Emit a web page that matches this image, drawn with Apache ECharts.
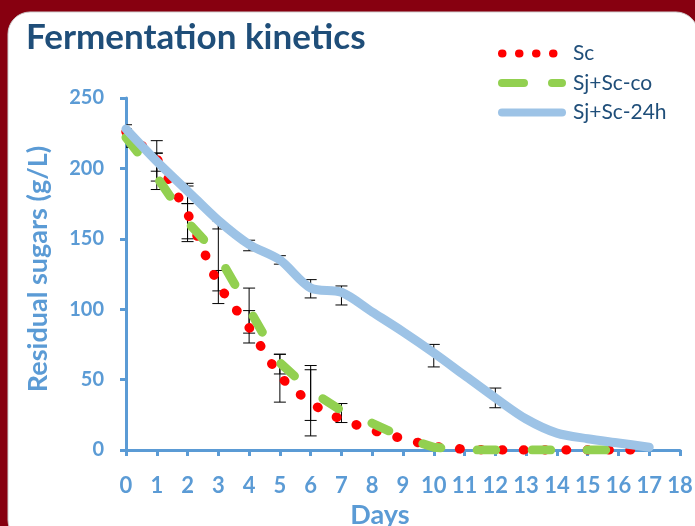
<!DOCTYPE html>
<html>
<head>
<meta charset="utf-8">
<script src="https://cdn.jsdelivr.net/npm/echarts@6/dist/echarts.min.js"></script>
<style>
html,body{margin:0;padding:0;background:#870010;}
#chart{width:695px;height:526px;}
</style>
</head>
<body>
<div id="chart"></div>
<script>
// ---- data ----
const xTicks = [0,1,2,3,4,5,6,7,8,9,10,11,12,13,14,15,16,17,18];
const yTicks = [0,50,100,150,200,250];

const scDays   = [0,1,2,3,4,5,6,7,8,9,10,11,12,13,14,15,16,16.5];
const scValues = [226,207,168,117,87,52,33,21.5,14,8,2.5,0.5,0,0,0,0,0,0];

const coDays   = [0,1,2,3,4,5,6,7,8,9,10,11,12,13,14,15,16];
const coValues = [222,194,162,138,100,62,42,28,19,9,2,0,0,0,0,0,0];

const h24Days   = [0,1,2,3,4,5,6,7,8,9,10,11,12,13,14,15,16,17];
const h24Values = [228,205,184,163,146,135,115,112,98,84,69,53,37,22,12,8,5,2];

// error bars: day, low, high
const errDays = [0,0, 1,1,1, 2,2,2, 3,3,3, 4,4,4, 5,5,5, 6,6,6, 7,7, 10, 12];
const errLow  = [222,215, 198,185,191, 150,148,175, 104,113,157, 76,83,141.5, 34,54,132, 10,21,108, 19.5,103, 59, 30];
const errHigh = [231,228, 219.7,210.7,211, 187.5,175,189.4, 127.5,162.8,163, 99,115,149, 68,68,138, 57,60,121, 33,116.5, 75, 44];

const seriesNames = ['Sc','Sj+Sc-co','Sj+Sc-24h'];

const pair = (xs, ys) => xs.map((x, i) => [x, ys[i]]);
const errData = errDays.map((d, i) => [d, errLow[i], errHigh[i]]);

const axisBlue = '#5B9BD5';
const FONT = 'Lato';

const chart = echarts.init(document.getElementById('chart'));
chart.setOption({
  backgroundColor: 'transparent',
  animation: false,
  graphic: [{
    type: 'rect', z: -10, silent: true,
    shape: {x: 8, y: 12, width: 690, height: 530, r: 22},
    style: {fill: '#ffffff', stroke: '#cfcfcf', lineWidth: 1}
  }],
  title: {
    text: 'Fermentation kinetics',
    left: 21, top: 15,
    textStyle: {fontFamily: FONT, fontWeight: 'bold', fontSize: 35, color: '#1F4E79'}
  },
  legend: {
    orient: 'vertical',
    left: 493, top: 38,
    itemWidth: 60, itemHeight: 14, itemGap: 8.5,
    itemStyle: {opacity: 0},
    data: [
      {name: seriesNames[0], lineStyle: {width: 8, type: [0.5, 16.5], cap: 'round'}},
      {name: seriesNames[1], lineStyle: {width: 8, type: [22, 28], cap: 'round'}},
      {name: seriesNames[2], lineStyle: {width: 8, cap: 'round'}}
    ],
    textStyle: {fontFamily: FONT, fontSize: 21, color: '#1F4E79', padding: [0, 0, 0, 6]}
  },
  grid: {left: 126, right: 15, top: 98, bottom: 76, containLabel: false, outerBoundsMode: 'none'},
  xAxis: {
    type: 'value', min: 0, max: 18, interval: 1,
    name: 'Days', nameLocation: 'middle', nameGap: 50,
    nameTextStyle: {fontFamily: FONT, fontWeight: 'bold', fontSize: 27, color: axisBlue, padding: [0, 46, 0, 0]},
    axisLine: {show: true, onZero: false, lineStyle: {color: axisBlue, width: 3}},
    axisTick: {show: true, inside: false, length: 6, lineStyle: {color: axisBlue, width: 3}},
    axisLabel: {fontFamily: FONT, fontWeight: 'bold', fontSize: 22, color: axisBlue, margin: 25,
      formatter: v => xTicks.includes(v) ? String(v) : ''},
    splitLine: {show: false}
  },
  yAxis: {
    type: 'value', min: 0, max: 250, interval: 50,
    name: 'Residual sugars (g/L)', nameLocation: 'middle', nameGap: 74, nameRotate: 90,
    nameTextStyle: {fontFamily: FONT, fontWeight: 'bold', fontSize: 27, color: axisBlue, padding: [0, 0, 0, 10]},
    axisLine: {show: true, lineStyle: {color: axisBlue, width: 3}},
    axisTick: {show: true, inside: false, length: 6, lineStyle: {color: axisBlue, width: 3}},
    axisLabel: {fontFamily: FONT, fontWeight: 'bold', fontSize: 20, color: axisBlue, margin: 22,
      formatter: v => yTicks.includes(v) ? String(v) : ''},
    splitLine: {show: false}
  },
  series: [
    {
      type: 'custom', name: 'err', z: 1, clip: true, silent: true,
      encode: {x: 0, y: [1, 2]},
      data: errData,
      renderItem: function (params, api) {
        const x = api.value(0);
        const top = api.coord([x, api.value(2)]);
        const bot = api.coord([x, api.value(1)]);
        const hw = 6;
        const st = {stroke: '#000', lineWidth: 1, fill: null};
        return {type: 'group', children: [
          {type: 'line', shape: {x1: top[0], y1: top[1], x2: bot[0], y2: bot[1]}, style: st},
          {type: 'line', shape: {x1: top[0]-hw, y1: top[1], x2: top[0]+hw, y2: top[1]}, style: st},
          {type: 'line', shape: {x1: bot[0]-hw, y1: bot[1], x2: bot[0]+hw, y2: bot[1]}, style: st}
        ]};
      }
    },
    {
      type: 'line', name: 'Sc', z: 2, symbol: 'none', smooth: false,
      data: pair(scDays, scValues),
      itemStyle: {color: '#FF0000'},
      lineStyle: {color: '#FF0000', width: 9.5, type: [0.5, 20.8], cap: 'round'}
    },
    {
      type: 'line', name: 'Sj+Sc-co', z: 3, symbol: 'none', smooth: false,
      data: pair(coDays, coValues),
      itemStyle: {color: '#92D050'},
      lineStyle: {color: '#92D050', width: 9, type: [18.5, 36.5], cap: 'round'}
    },
    {
      type: 'line', name: 'Sj+Sc-24h', z: 4, symbol: 'none', smooth: 0.3,
      data: pair(h24Days, h24Values),
      itemStyle: {color: '#9DC3E6'},
      lineStyle: {color: '#9DC3E6', width: 9, cap: 'round'}
    }
  ]
});
</script>
</body>
</html>
